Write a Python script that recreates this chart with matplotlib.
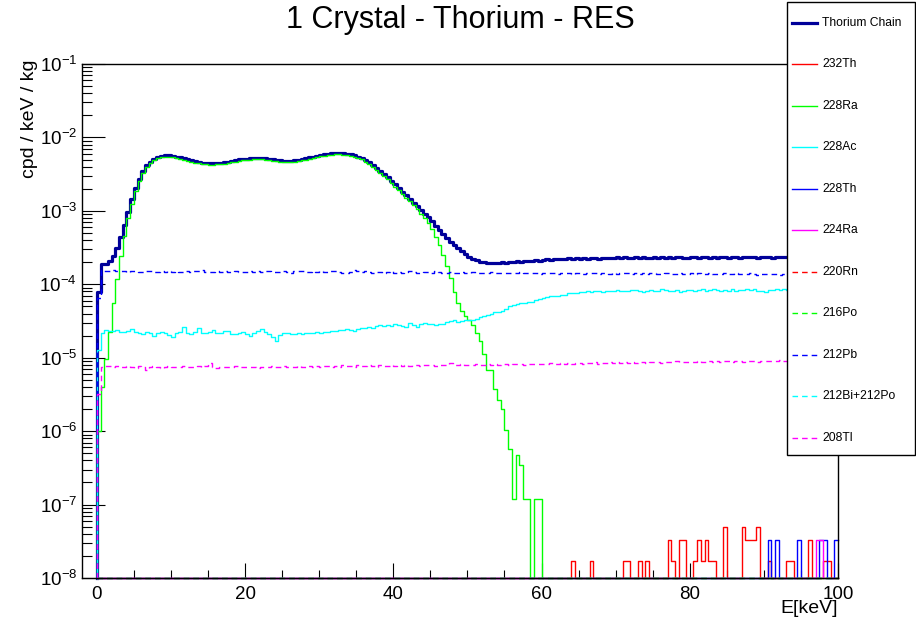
import numpy as np
import matplotlib
matplotlib.use("Agg")
import matplotlib.pyplot as plt
from matplotlib.ticker import LogLocator, MultipleLocator, NullFormatter
from matplotlib.lines import Line2D
from matplotlib.patches import Rectangle

plt.rcParams["font.family"] = ["Liberation Sans", "DejaVu Sans"]
plt.rcParams["mathtext.fontset"] = "custom"
plt.rcParams["mathtext.rm"] = "Liberation Sans"
plt.rcParams["mathtext.it"] = "Liberation Sans:italic"
plt.rcParams["lines.scale_dashes"] = False

# 0.5 keV bins from 0 to 100 keV
bin_width = 0.5
edges = np.arange(0, 100 + bin_width, bin_width)

# log10(cpd/keV/kg) per bin (nan = empty bin)
thorium_chain_log = [
    -4.11, -3.72, -3.72, -3.68, -3.62, -3.51, -3.36, -3.19, -3.01, -2.84, -2.69, -2.57, -2.46, -2.38, -2.33, -2.29, -2.265, -2.25, -2.245, -2.245,
    -2.25, -2.26, -2.27, -2.285, -2.30, -2.31, -2.325, -2.335, -2.345, -2.35, -2.353, -2.352, -2.35, -2.345, -2.34, -2.33, -2.32, -2.31, -2.30, -2.295,
    -2.29, -2.285, -2.282, -2.28, -2.281, -2.285, -2.29, -2.297, -2.305, -2.31, -2.315, -2.317, -2.316, -2.313, -2.305, -2.295, -2.285, -2.272, -2.26, -2.25,
    -2.24, -2.23, -2.222, -2.218, -2.215, -2.215, -2.217, -2.222, -2.23, -2.245, -2.26, -2.28, -2.31, -2.34, -2.375, -2.415, -2.455, -2.50, -2.545, -2.59,
    -2.64, -2.69, -2.74, -2.79, -2.84, -2.89, -2.94, -2.99, -3.04, -3.09, -3.14, -3.20, -3.26, -3.32, -3.37, -3.42, -3.47, -3.51, -3.55, -3.59,
    -3.63, -3.655, -3.675, -3.69, -3.70, -3.705, -3.71, -3.705, -3.712, -3.70, -3.705, -3.695, -3.70, -3.688, -3.692, -3.68, -3.685, -3.678, -3.672, -3.68,
    -3.668, -3.662, -3.67, -3.658, -3.662, -3.655, -3.66, -3.648, -3.652, -3.645, -3.65, -3.642, -3.655, -3.646, -3.64, -3.65, -3.638, -3.645, -3.64, -3.648,
    -3.635, -3.642, -3.63, -3.64, -3.646, -3.634, -3.64, -3.628, -3.636, -3.645, -3.632, -3.64, -3.63, -3.638, -3.626, -3.642, -3.634, -3.63, -3.638, -3.644,
    -3.632, -3.628, -3.64, -3.634, -3.625, -3.638, -3.63, -3.642, -3.628, -3.632, -3.636, -3.624, -3.63, -3.64, -3.632, -3.626, -3.634, -3.628, -3.638, -3.63,
    -3.626, -3.632, -3.64, -3.628, -3.622, -3.634, -3.63, -3.626, -3.636, -3.655, -3.628, -3.632, -3.624, -3.63, -3.636, -3.628, -3.622, -3.632, -3.626, -3.624,
]

ra228_log = [
    -6.0, -5.40, -5.02, -4.65, -4.25, -3.93, -3.61, -3.34, -3.10, -2.90, -2.735, -2.60, -2.485, -2.40, -2.348, -2.308, -2.283, -2.268, -2.263, -2.263,
    -2.268, -2.278, -2.288, -2.303, -2.318, -2.328, -2.343, -2.353, -2.363, -2.368, -2.371, -2.37, -2.368, -2.363, -2.358, -2.348, -2.338, -2.328, -2.318, -2.313,
    -2.308, -2.303, -2.30, -2.298, -2.299, -2.303, -2.308, -2.315, -2.323, -2.328, -2.333, -2.335, -2.334, -2.331, -2.323, -2.313, -2.303, -2.29, -2.278, -2.267,
    -2.257, -2.247, -2.239, -2.235, -2.232, -2.232, -2.234, -2.239, -2.248, -2.263, -2.28, -2.30, -2.33, -2.362, -2.40, -2.44, -2.48, -2.525, -2.57, -2.62,
    -2.67, -2.72, -2.77, -2.82, -2.87, -2.925, -2.98, -3.04, -3.10, -3.17, -3.25, -3.36, -3.47, -3.60, -3.75, -3.92, -4.10, -4.25, -4.36, -4.43,
    -4.48, -4.55, -4.66, -4.77, -4.95, -5.17, -5.17, -5.42, -5.57, -5.70, -5.98, -6.24, -6.93, -6.33, -6.46, -6.93, -6.93, np.nan, -6.93, -6.93,
] + [np.nan] * 80

ac228_log = [
    -4.89, -4.667, -4.62, -4.63, -4.64, -4.62, -4.65, -4.645, -4.63, -4.61, -4.645, -4.66, -4.68, -4.65, -4.66, -4.70, -4.67, -4.655, -4.665, -4.69,
    -4.72, -4.67, -4.65, -4.585, -4.66, -4.675, -4.65, -4.60, -4.665, -4.67, -4.655, -4.62, -4.665, -4.66, -4.635, -4.63, -4.675, -4.68, -4.66, -4.65,
    -4.68, -4.70, -4.66, -4.64, -4.61, -4.65, -4.68, -4.72, -4.77, -4.69, -4.67, -4.66, -4.675, -4.675, -4.67, -4.675, -4.665, -4.67, -4.66, -4.655,
    -4.66, -4.645, -4.65, -4.635, -4.64, -4.62, -4.625, -4.61, -4.625, -4.63, -4.61, -4.60, -4.595, -4.58, -4.59, -4.565, -4.56, -4.57, -4.555, -4.565,
    -4.545, -4.555, -4.57, -4.585, -4.53, -4.56, -4.58, -4.54, -4.53, -4.545, -4.54, -4.55, -4.535, -4.545, -4.52, -4.50, -4.49, -4.51, -4.495, -4.49,
    -4.485, -4.49, -4.47, -4.44, -4.43, -4.42, -4.40, -4.375, -4.38, -4.36, -4.33, -4.30, -4.28, -4.265, -4.26, -4.25, -4.24, -4.235, -4.21, -4.20,
    -4.185, -4.17, -4.165, -4.16, -4.155, -4.15, -4.14, -4.125, -4.115, -4.12, -4.105, -4.10, -4.095, -4.10, -4.09, -4.085, -4.10, -4.09, -4.085, -4.09,
    -4.08, -4.095, -4.085, -4.09, -4.08, -4.075, -4.09, -4.10, -4.085, -4.08, -4.09, -4.085, -4.07, -4.08, -4.09, -4.095, -4.08, -4.105, -4.09, -4.08,
    -4.075, -4.09, -4.08, -4.07, -4.085, -4.08, -4.065, -4.075, -4.09, -4.08, -4.085, -4.07, -4.09, -4.075, -4.08, -4.065, -4.08, -4.07, -4.085, -4.09,
    -4.10, -4.08, -4.075, -4.07, -4.08, -4.065, -4.075, -4.08, -4.07, -4.09, -4.10, -4.095, -4.07, -4.08, -4.075, -4.085, -4.07, -4.075, -4.08, -4.075,
]

pb212_log = [
    -4.18, -3.81, -3.815, -3.82, -3.81, -3.825, -3.815, -3.82, -3.83, -3.82, -3.825, -3.835, -3.83, -3.825, -3.815, -3.83, -3.835, -3.825, -3.83, -3.82,
    -3.83, -3.825, -3.835, -3.83, -3.82, -3.83, -3.815, -3.825, -3.81, -3.83, -3.835, -3.83, -3.825, -3.83, -3.82, -3.835, -3.83, -3.825, -3.83, -3.835,
    -3.83, -3.825, -3.835, -3.82, -3.83, -3.825, -3.815, -3.83, -3.835, -3.83, -3.825, -3.83, -3.84, -3.82, -3.825, -3.815, -3.83, -3.835, -3.825, -3.83,
    -3.82, -3.83, -3.835, -3.815, -3.825, -3.83, -3.84, -3.845, -3.83, -3.81, -3.825, -3.835, -3.82, -3.83, -3.84, -3.835, -3.83, -3.845, -3.835, -3.825,
    -3.84, -3.835, -3.845, -3.83, -3.825, -3.835, -3.84, -3.845, -3.83, -3.835, -3.84, -3.825, -3.835, -3.84, -3.845, -3.835, -3.84, -3.85, -3.835, -3.84,
    -3.845, -3.835, -3.84, -3.85, -3.845, -3.84, -3.835, -3.845, -3.85, -3.84, -3.845, -3.84, -3.85, -3.845, -3.835, -3.84, -3.85, -3.845, -3.84, -3.855,
    -3.845, -3.85, -3.84, -3.845, -3.855, -3.85, -3.845, -3.84, -3.855, -3.85, -3.845, -3.86, -3.85, -3.845, -3.85, -3.855, -3.845, -3.85, -3.86, -3.85,
    -3.855, -3.845, -3.85, -3.84, -3.855, -3.85, -3.86, -3.85, -3.855, -3.845, -3.85, -3.86, -3.855, -3.85, -3.845, -3.855, -3.86, -3.85, -3.855, -3.865,
    -3.85, -3.855, -3.845, -3.86, -3.855, -3.85, -3.86, -3.865, -3.855, -3.85, -3.86, -3.855, -3.845, -3.86, -3.865, -3.855, -3.85, -3.86, -3.87, -3.855,
    -3.86, -3.865, -3.855, -3.86, -3.87, -3.86, -3.855, -3.865, -3.87, -3.86, -3.865, -3.87, -3.86, -3.855, -3.865, -3.87, -3.86, -3.865, -3.87, -3.865,
]

tl208_log = [
    -5.49, -5.12, -5.115, -5.11, -5.125, -5.115, -5.12, -5.13, -5.11, -5.12, -5.14, -5.115, -5.125, -5.17, -5.13, -5.11, -5.125, -5.135, -5.12, -5.115,
    -5.12, -5.13, -5.125, -5.115, -5.12, -5.13, -5.125, -5.11, -5.12, -5.115, -5.07, -5.12, -5.145, -5.13, -5.125, -5.13, -5.12, -5.115, -5.125, -5.13,
    -5.125, -5.12, -5.13, -5.135, -5.12, -5.125, -5.13, -5.115, -5.12, -5.125, -5.11, -5.12, -5.13, -5.125, -5.115, -5.12, -5.125, -5.11, -5.12, -5.115,
    -5.12, -5.11, -5.115, -5.125, -5.11, -5.12, -5.105, -5.115, -5.11, -5.12, -5.105, -5.11, -5.115, -5.10, -5.11, -5.12, -5.105, -5.11, -5.115, -5.105,
    -5.11, -5.10, -5.115, -5.105, -5.11, -5.10, -5.105, -5.11, -5.10, -5.105, -5.095, -5.11, -5.10, -5.105, -5.095, -5.075, -5.10, -5.105, -5.09, -5.10,
    -5.095, -5.10, -5.09, -5.105, -5.095, -5.085, -5.10, -5.09, -5.095, -5.085, -5.09, -5.10, -5.085, -5.09, -5.08, -5.095, -5.085, -5.09, -5.08, -5.085,
    -5.08, -5.09, -5.075, -5.085, -5.08, -5.07, -5.085, -5.075, -5.08, -5.07, -5.075, -5.085, -5.07, -5.075, -5.065, -5.08, -5.07, -5.075, -5.065, -5.07,
    -5.065, -5.075, -5.06, -5.07, -5.065, -5.075, -5.06, -5.065, -5.07, -5.055, -5.065, -5.06, -5.07, -5.055, -5.065, -5.06, -5.05, -5.065, -5.055, -5.06,
    -5.055, -5.065, -5.05, -5.06, -5.055, -5.045, -5.06, -5.05, -5.055, -5.045, -5.05, -5.06, -5.045, -5.05, -5.055, -5.04, -5.05, -5.045, -5.055, -5.04,
    -5.045, -5.05, -5.04, -5.045, -5.035, -5.05, -5.04, -5.045, -5.035, -5.04, -5.045, -5.03, -5.04, -5.035, -5.045, -5.03, -5.035, -5.04, -5.03, -5.035,
]

# sparse components: low edge of filled bins (keV) and rate (cpd/keV/kg)
th232_energy = [64.0, 66.5, 71.0, 71.5, 73.0, 74.0, 77.0, 77.5, 78.5, 79.0, 80.5, 81.0, 81.5, 82.0,
                82.5, 83.0, 84.5, 87.0, 87.5, 88.0, 88.5, 89.0, 90.5, 93.0, 93.5, 96.0, 98.0, 98.5]
th232_rate = [1.7e-8, 1.7e-8, 1.7e-8, 1.7e-8, 1.7e-8, 1.7e-8, 3.3e-8, 1.7e-8, 3.3e-8, 3.3e-8, 1.7e-8, 3.3e-8, 1.7e-8, 3.3e-8,
              1.7e-8, 1.7e-8, 5.0e-8, 5.0e-8, 3.3e-8, 3.3e-8, 3.3e-8, 5.0e-8, 1.7e-8, 1.7e-8, 1.7e-8, 3.3e-8, 1.7e-8, 1.7e-8]
th228_energy = [90.5, 91.5, 94.5, 97.5, 98.0, 99.5]
th228_rate = [3.3e-8, 3.3e-8, 3.3e-8, 3.3e-8, 3.3e-8, 3.3e-8]
ra224_energy = [97.0, 97.5]
ra224_rate = [3.3e-8, 3.3e-8]
rn220_energy, rn220_rate = [], []
po216_energy, po216_rate = [], []
bipo212_energy, bipo212_rate = [], []

ymin, ymax = 1e-8, 1e-1


def from_log(vals):
    v = np.array(vals, dtype=float)
    return np.where(np.isnan(v), 0.0, 10.0 ** v)


def from_sparse(energy, rate):
    h = np.zeros(len(edges) - 1)
    if len(energy):
        idx = (np.array(energy) / bin_width).astype(int)
        h[idx] = rate
    return h


def draw_hist(ax, vals, **kw):
    # ROOT-like outline: rises from the frame bottom at the first edge,
    # empty bins sit on the frame bottom, no closing line at the last edge
    v = np.clip(vals, ymin, None)
    x = np.r_[edges[0], edges]
    y = np.r_[ymin, v, v[-1]]
    ax.plot(x, y, drawstyle="steps-post", clip_on=False, **kw)


dashed = (0, (4.0, 2.9))
series = [
    ("Thorium Chain", from_log(thorium_chain_log), "#000099", "-", 2.3),
    ("232Th", from_sparse(th232_energy, th232_rate), "#ff0000", "-", 1.0),
    ("228Ra", from_log(ra228_log), "#00ff00", "-", 1.0),
    ("228Ac", from_log(ac228_log), "#00ffff", "-", 1.0),
    ("228Th", from_sparse(th228_energy, th228_rate), "#0000ff", "-", 1.0),
    ("224Ra", from_sparse(ra224_energy, ra224_rate), "#ff00ff", "-", 1.0),
    ("220Rn", from_sparse(rn220_energy, rn220_rate), "#ff0000", dashed, 1.0),
    ("216Po", from_sparse(po216_energy, po216_rate), "#00ff00", dashed, 1.0),
    ("212Pb", from_log(pb212_log), "#0000ff", dashed, 1.0),
    ("212Bi+212Po", from_sparse(bipo212_energy, bipo212_rate), "#00ffff", dashed, 1.0),
    ("208Tl", from_log(tl208_log), "#ff00ff", dashed, 1.0),
]

fig = plt.figure(figsize=(9.16, 6.24), dpi=100)
ax = fig.add_axes([82 / 916, 46 / 624, 756 / 916, 514 / 624])

for k, (label, vals, color, ls, lw) in enumerate(series):
    draw_hist(ax, vals, color=color, linestyle=ls, linewidth=lw, zorder=2 + k * 0.01)

ax.set_yscale("log")
ax.set_ylim(ymin, ymax)
ax.set_xlim(-2, 100)
ax.yaxis.set_major_locator(LogLocator(base=10, numticks=20))
ax.yaxis.set_minor_locator(LogLocator(base=10, subs=np.arange(2, 10), numticks=20))
ax.yaxis.set_minor_formatter(NullFormatter())
ax.xaxis.set_major_locator(MultipleLocator(20))
ax.xaxis.set_minor_locator(MultipleLocator(5))
ax.tick_params(which="both", direction="in", top=False, right=False, width=0.8)
ax.tick_params(axis="y", which="major", length=16.5, pad=3.6, labelsize=13.5)
ax.tick_params(axis="y", which="minor", length=7.5)
ax.tick_params(axis="x", which="major", length=11, pad=6, labelsize=13.5)
ax.tick_params(axis="x", which="minor", length=5.5)
for sp in ax.spines.values():
    sp.set_linewidth(1.0)

ax.set_ylabel("cpd / keV / kg", loc="top", fontsize=14)
ax.yaxis.set_label_coords(-0.058, 1.008)
ax.set_xlabel("E[keV]", loc="right", fontsize=14)
ax.xaxis.set_label_coords(1.0, -0.043)

fig.text(460 / 916, 1 - 20 / 624, "1 Crystal - Thorium - RES", ha="center", va="center", fontsize=22)

# legend box in the top right corner, drawn over the plot
leg_left, leg_right = 787 / 916, 915 / 916
leg_top, leg_bottom = 1 - 2 / 624, 1 - 455 / 624
fig.add_artist(Rectangle((leg_left, leg_bottom), leg_right - leg_left, leg_top - leg_bottom,
                         transform=fig.transFigure, facecolor="white", edgecolor="black",
                         linewidth=1.0, zorder=5))
for i, (label, vals, color, ls, lw) in enumerate(series):
    y = 1 - (22.7 + 41.5 * i) / 624
    fig.add_artist(Line2D([792 / 916, 817 / 916], [y, y], transform=fig.transFigure,
                          color=color, linestyle=ls, linewidth=lw, zorder=6))
    fig.text(822 / 916, y, label, ha="left", va="center", fontsize=8.7, zorder=6)

fig.savefig("out.png", dpi=100)
